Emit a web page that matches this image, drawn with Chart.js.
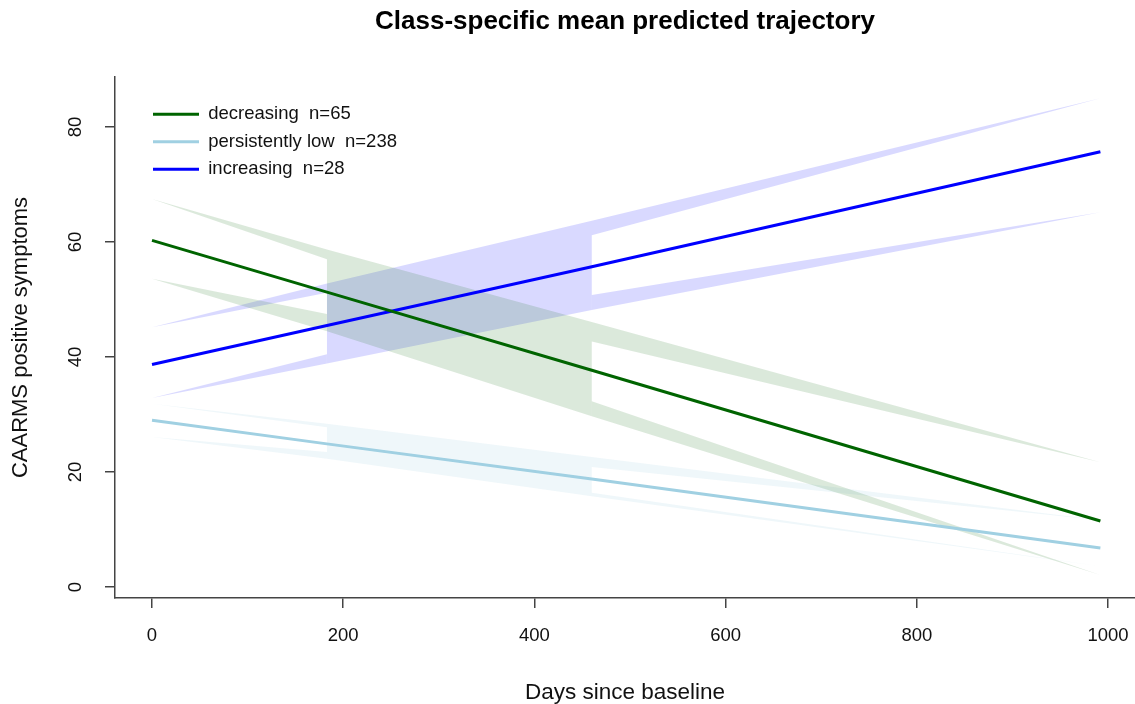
<!DOCTYPE html>
<html>
<head>
<meta charset="utf-8">
<script src="https://cdn.jsdelivr.net/npm/chart.js@4"></script>
<style>
  body { margin: 0; background: #fff; }
  #wrap { width: 1135px; height: 704px; }
</style>
</head>
<body>
<div id="wrap"><canvas id="myChart"></canvas></div>
<script>
// - Dados (dias e valores)

const days = [0, 183, 460, 992]
const xTicks = [0, 200, 400, 600, 800, 1000]
const yTicks = [0, 20, 40, 60, 80]

const labels = ['decreasing  n=65', 'persistently low  n=238', 'increasing  n=28']

const decMean = [60.3, 51.3, 37.7, 11.5]
const decUpper = [67.5, 58.7, 46.1, 21.7]
const decLower = [53.6, 44.5, 29.7, 2.1]
const decInnerTop = [57.0, 42.7]      // dia 183 e dia 460
const decInnerBottom = [47.5, 32.3]

const lowMean = [29.0, 24.9, 18.8, 6.8]
const lowUpper = [31.9, 28.4, 22.6, 11.6]
const lowLower = [26.1, 22.3, 15.8, 3.6]
const lowInnerTop = [27.8, 20.9]
const lowInnerBottom = [23.5, 16.4]

const incMean = [38.7, 45.5, 55.7, 75.7]
const incUpper = [45.2, 52.8, 63.7, 85.0]
const incLower = [32.9, 38.9, 48.2, 65.2]
const incInnerTop = [51.2, 61.2]
const incInnerBottom = [40.5, 50.8]

const font = "'Liberation Sans', Arial, sans-serif"

// - Helpers

const bandX = [days[0], days[1], days[1], days[2], days[2], days[3]]

function edge(v) {
  return bandX.map((x, i) => ({ x: x, y: [v[0], v[1], v[1], v[2], v[2], v[3]][i] }))
}

function inner(v, mid, other) {
  const ys = [v[0], mid[0], other[1], other[2], mid[1], v[3]]
  return bandX.map((x, i) => ({ x: x, y: ys[i] }))
}

function line(v) {
  return days.map((d, i) => ({ x: d, y: v[i] }))
}

function bands(upper, lower, innerTop, innerBottom, fillColor) {
  const base = { borderWidth: 0, pointRadius: 0, order: 2 }
  return [
    { ...base, data: edge(upper), fill: '+1', backgroundColor: fillColor },
    { ...base, data: inner(upper, innerTop, lower), fill: false },
    { ...base, data: edge(lower), fill: '+1', backgroundColor: fillColor },
    { ...base, data: inner(lower, innerBottom, lower), fill: false },
  ]
}

function mean(label, v, color) {
  return { label: label, data: line(v), borderColor: color, backgroundColor: color,
    borderWidth: 3, pointRadius: 0, fill: false, order: 0 }
}

const datasets = [
  ...bands(decUpper, decLower, decInnerTop, decInnerBottom, 'rgba(0, 100, 0, 0.14)'),
  ...bands(incUpper, incLower, incInnerTop, incInnerBottom, 'rgba(0, 0, 255, 0.15)'),
  ...bands(lowUpper, lowLower, lowInnerTop, lowInnerBottom, 'rgba(173, 216, 230, 0.2)'),
  mean(labels[0], decMean, '#006400'),
  mean(labels[1], lowMean, '#A0D0E2'),
  mean(labels[2], incMean, '#0000FF'),
]

// legenda dentro da area do grafico, como no R
const legendNudge = {
  id: 'legendNudge',
  afterLayout(chart) {
    chart.legend.left = chart.chartArea.left + 29
    chart.legend.top = chart.chartArea.top + 19
  }
}

const config = {
  type: 'line',
  data: { datasets: datasets },
  options: {
    responsive: true,
    maintainAspectRatio: false,
    animation: false,
    events: [],
    layout: { padding: 0 },
    plugins: {
      title: {
        display: true,
        text: 'Class-specific mean predicted trajectory',
        color: '#000',
        fullSize: false,
        font: { family: font, size: 26, weight: 'bold' },
        padding: { top: 6.4, bottom: 39.4 }
      },
      legend: {
        position: 'chartArea',
        align: 'start',
        labels: {
          usePointStyle: true,
          pointStyle: 'line',
          pointStyleWidth: 46,
          padding: 9,
          color: '#111',
          font: { family: font, size: 18.5 },
          filter: item => !!item.text
        }
      },
      tooltip: { enabled: false }
    },
    scales: {
      x: {
        type: 'linear',
        min: -38.7,
        max: 1028.2,
        afterBuildTicks: s => { s.ticks = xTicks.map(v => ({ value: v })) },
        afterFit: s => { s.height = 106; s.paddingLeft = 0; s.paddingRight = 0 },
        grid: { drawOnChartArea: false, drawTicks: true, tickLength: 10, color: '#444', lineWidth: 1.5 },
        border: { display: true, color: '#444', width: 1.5 },
        ticks: { color: '#111', padding: 17, font: { family: font, size: 18.5 }, callback: v => String(v) },
        title: {
          display: true, text: 'Days since baseline', color: '#111',
          font: { family: font, size: 22.5, lineHeight: 1 }, padding: { top: 0, bottom: 0 }
        }
      },
      y: {
        type: 'linear',
        min: -1.9,
        max: 88.7,
        afterBuildTicks: s => { s.ticks = yTicks.map(v => ({ value: v })) },
        afterFit: s => { s.width = 115; s.paddingTop = 0; s.paddingBottom = 0 },
        grid: { drawOnChartArea: false, drawTicks: true, tickLength: 10, color: '#444', lineWidth: 1.5 },
        border: { display: true, color: '#444', width: 1.5 },
        ticks: {
          color: '#111', padding: 19, minRotation: 90, maxRotation: 90, crossAlign: 'center',
          font: { family: font, size: 18.5 }, callback: v => String(v)
        },
        title: {
          display: true, text: 'CAARMS positive symptoms', color: '#111',
          font: { family: font, size: 22, lineHeight: 1 }, padding: { top: 10, bottom: 0 }
        }
      }
    }
  },
  plugins: [legendNudge]
}

const myChart = new Chart(
  document.getElementById('myChart'),
  config
)
</script>
</body>
</html>
